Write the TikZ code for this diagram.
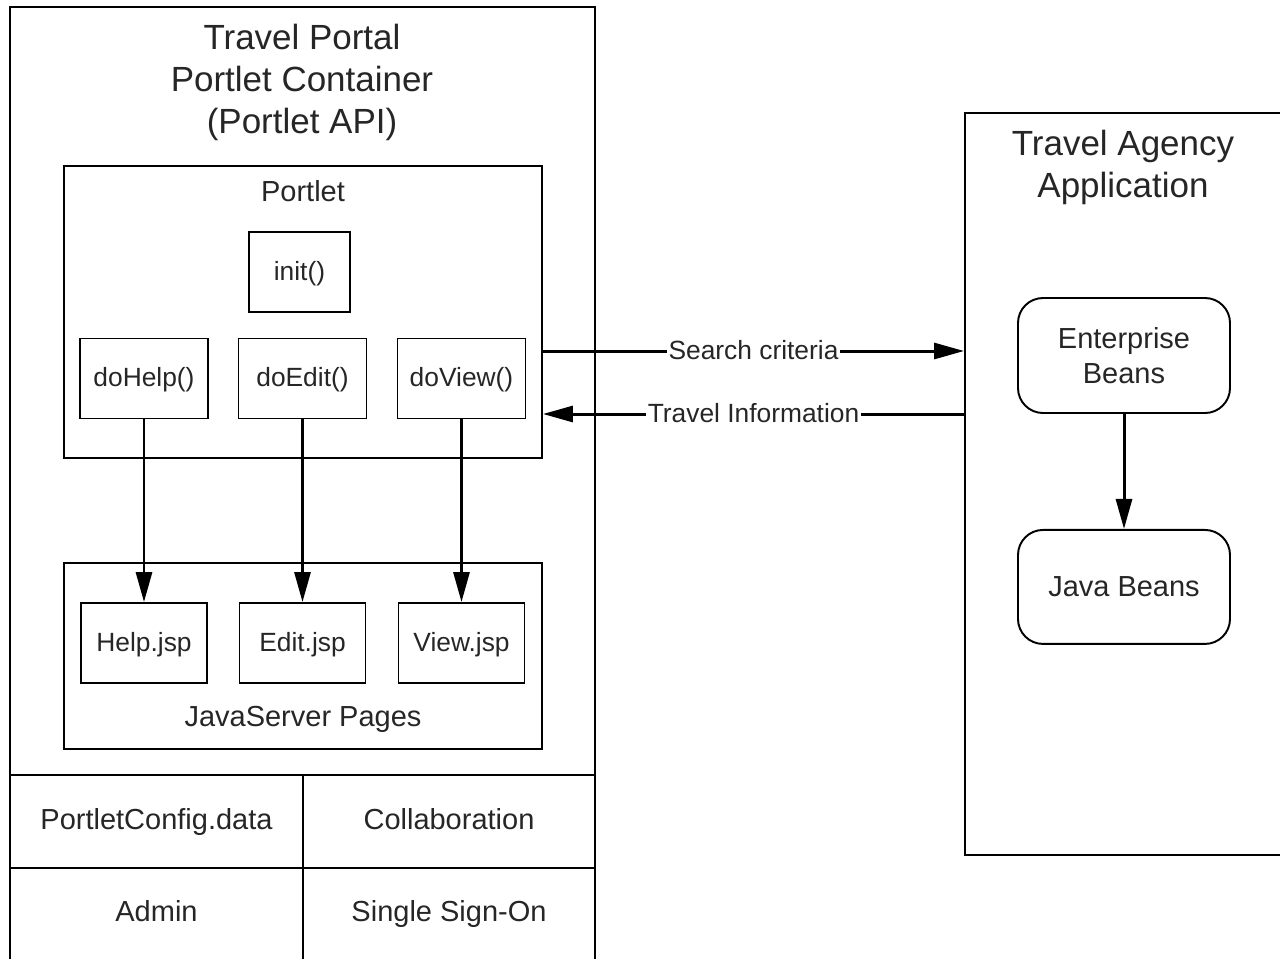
\documentclass[tikz,border=0pt]{standalone}
\usepackage{fontspec}
\setmainfont{Liberation Sans}
\usetikzlibrary{arrows.meta, positioning}

\tikzset{
  box/.style={draw, line width=1.1pt, minimum width=2.56cm, minimum height=1.6cm, text=black!85, text height=1.1em, text depth=0.15em, font=\fontsize{15}{18}\selectfont},
  bean/.style={draw, line width=1.1pt, rounded corners=0.5cm, minimum width=4.24cm, minimum height=2.3cm, align=center, text=black!85, font=\fontsize{16.5}{20}\selectfont},
  group/.style={draw, line width=1.1pt, minimum width=9.56cm},
  heading/.style={align=center, text=black!85, font=\fontsize{19.9}{23.9}\selectfont},
  caption/.style={text=black!85, text height=1.1em, text depth=0.15em, font=\fontsize{16.5}{20}\selectfont},
  flow/.style={line width=1.7pt, -{Triangle[length=0.6cm,width=0.32cm]}},
  msg/.style={fill=white, inner sep=1pt, text=black!85, text height=1.1em, text depth=0.15em, font=\fontsize{15}{18}\selectfont},
}

\begin{document}
\begin{tikzpicture}
    \useasboundingbox (0,0) rectangle (25.6,-19.16);
    \clip (0,0) rectangle (25.6,-19.16);

    % Portal container
    \draw[line width=1.1pt] (0.2,-0.14) rectangle (11.9,-19.5);
    \node[heading] (portal) at (6.04,-1.65) {Travel Portal\\Portlet Container\\(Portlet API)};

    % Portlet with its methods
    \node[group, minimum height=5.84cm] (portlet) at (6.06,-6.24) {};
    \node[caption] (portletlbl) at (6.06,-3.86) {Portlet};
    \node[box, minimum width=2.02cm] (init) at (5.99,-5.44) {init()};
    \node[box] (dohelp) at (2.88,-7.57) {doHelp()};
    \node[box] (doedit) at (6.05,-7.57) {doEdit()};
    \node[box] (doview) at (9.23,-7.57) {doView()};

    % JavaServer Pages
    \node[group, minimum height=3.72cm] (jsp) at (6.06,-13.12) {};
    \node[box, minimum width=2.52cm] (helpjsp) at (2.88,-12.86) {Help.jsp};
    \node[box, minimum width=2.52cm] (editjsp) at (6.05,-12.86) {Edit.jsp};
    \node[box, minimum width=2.52cm] (viewjsp) at (9.23,-12.86) {View.jsp};
    \node[caption] (jsplbl) at (6.06,-14.36) {JavaServer Pages};

    % Method to page
    \foreach \m/\p in {dohelp/helpjsp, doedit/editjsp, doview/viewjsp} {
        \draw[flow] (\m) -- (\p);
    }

    % Services at the bottom
    \draw[line width=1.1pt] (0.2,-15.5) -- (11.9,-15.5);
    \draw[line width=1.1pt] (0.2,-17.36) -- (11.9,-17.36);
    \draw[line width=1.1pt] (6.06,-15.5) -- (6.06,-19.5);
    \node[caption] (config) at (3.13,-16.43) {PortletConfig.data};
    \node[caption] (collab) at (8.98,-16.43) {Collaboration};
    \node[caption] (admin) at (3.13,-18.26) {Admin};
    \node[caption] (sso) at (8.98,-18.26) {Single Sign-On};

    % Travel agency side
    \node[draw, line width=1.1pt, minimum width=6.7cm, minimum height=14.84cm] (agency) at (22.65,-9.68) {};
    \node[heading] (agencylbl) at (22.46,-3.35) {Travel Agency\\Application};
    \node[bean] (ejb) at (22.48,-7.11) {Enterprise\\Beans};
    \node[bean, minimum height=2.28cm, below=2.3cm of ejb] (javabeans) {Java Beans};
    \draw[flow] (ejb) -- (javabeans);

    % Requests and replies
    \draw[flow] ([yshift=-0.78cm]portlet.east) -- ([yshift=-0.78cm]portlet.east -| agency.west)
        node[msg, midway] {Search criteria};
    \draw[flow] ([yshift=-2.04cm]portlet.east -| agency.west) -- ([yshift=-2.04cm]portlet.east)
        node[msg, midway] {Travel Information};
\end{tikzpicture}
\end{document}
